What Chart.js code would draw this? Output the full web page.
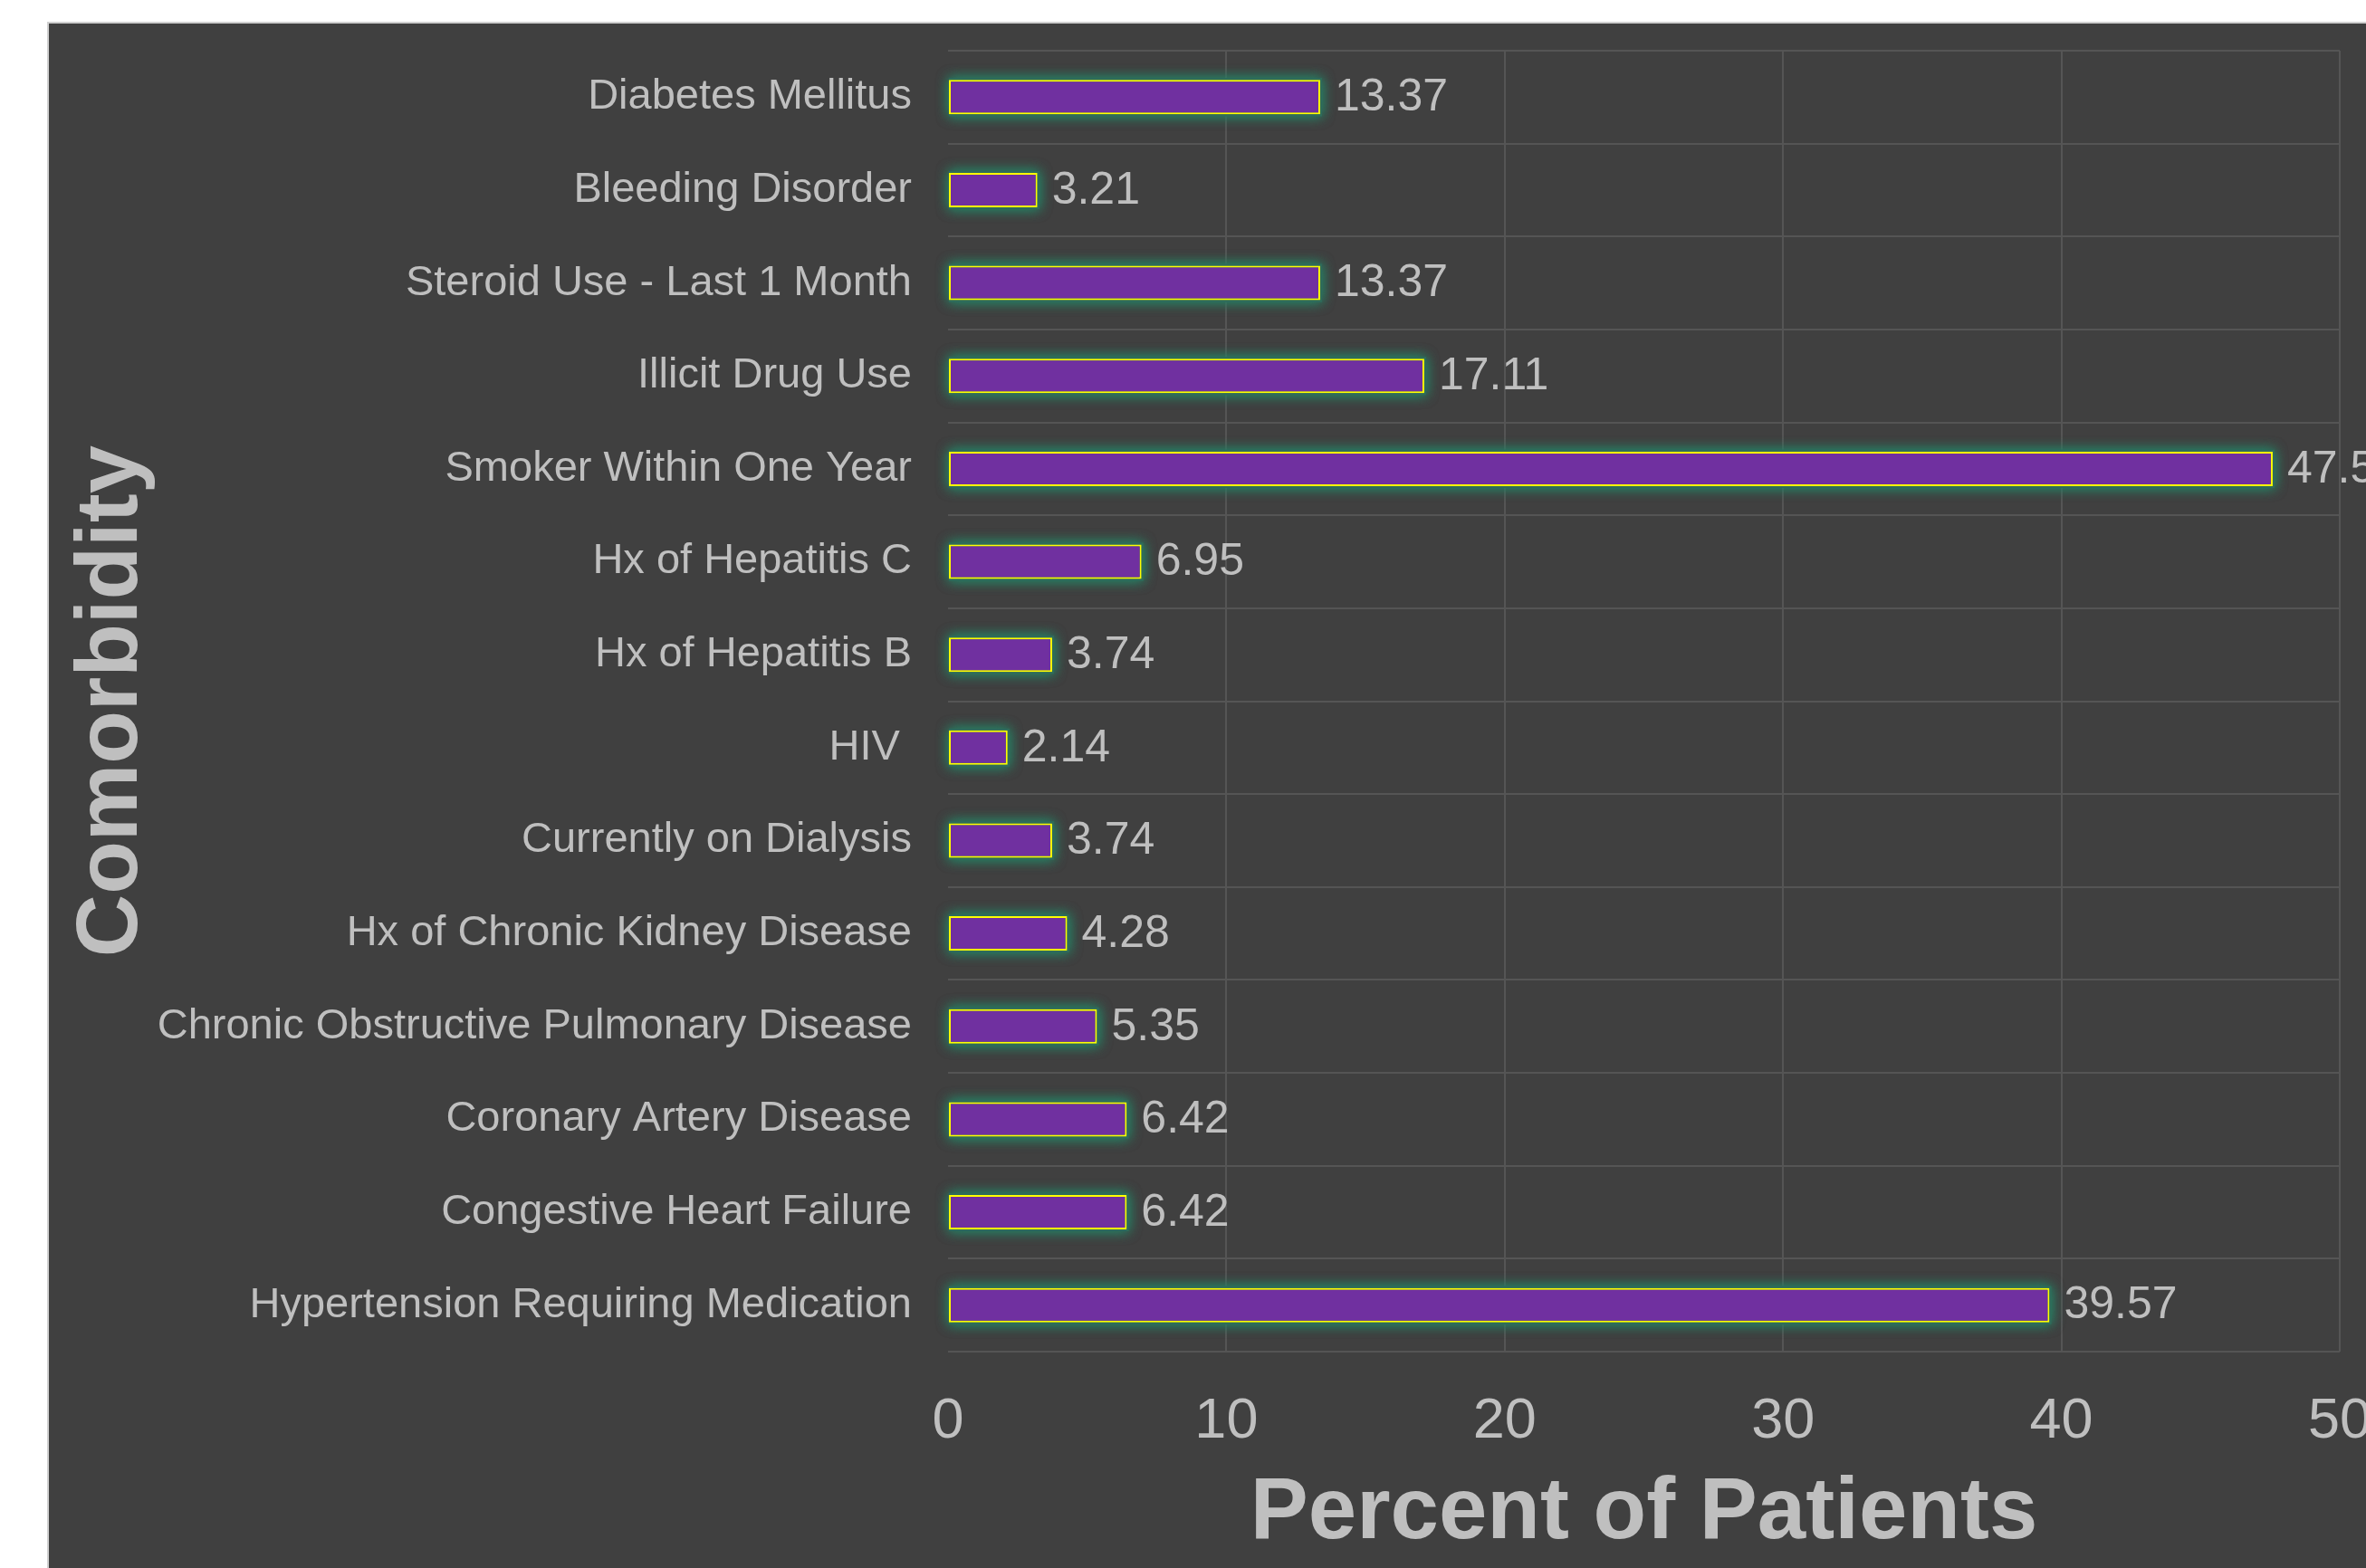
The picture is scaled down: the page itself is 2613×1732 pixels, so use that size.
<!DOCTYPE html>
<html>
<head>
<meta charset="utf-8">
<script src="https://cdn.jsdelivr.net/npm/chart.js@4.4.0/dist/chart.umd.min.js"></script>
<style>
  html, body { margin: 0; padding: 0; background: #ffffff; }
  canvas { display: block; }
</style>
</head>
<body>
<canvas id="myChart" width="2613" height="1732"></canvas>
<script>
const categories = [
  "Diabetes Mellitus",
  "Bleeding Disorder",
  "Steroid Use - Last 1 Month",
  "Illicit Drug Use",
  "Smoker Within One Year",
  "Hx of Hepatitis C",
  "Hx of Hepatitis B",
  "HIV ",
  "Currently on Dialysis",
  "Hx of Chronic Kidney Disease",
  "Chronic Obstructive Pulmonary Disease",
  "Coronary Artery Disease",
  "Congestive Heart Failure",
  "Hypertension Requiring Medication",
];
const percentOfPatients = [13.37, 3.21, 13.37, 17.11, 47.59, 6.95, 3.74, 2.14, 3.74, 4.28, 5.35, 6.42, 6.42, 39.57];
const xTickValues = [0, 10, 20, 30, 40, 50];

const textColor = "#bfbfbf";
const gridColor = "#555555";
const fontFamily = "'Liberation Sans', Arial, Helvetica, sans-serif";

// white page with the dark panel behind the plot
const panelBackground = {
  id: "panelBackground",
  beforeDraw(chart) {
    const ctx = chart.ctx;
    const left = 53, top = 25;
    ctx.save();
    ctx.fillStyle = "#ffffff";
    ctx.fillRect(0, 0, chart.width, chart.height);
    ctx.fillStyle = "#404040";
    ctx.fillRect(left, top, chart.width - left, chart.height - top);
    ctx.strokeStyle = "#d0d0d0";
    ctx.lineWidth = 2;
    ctx.beginPath();
    ctx.moveTo(left, chart.height);
    ctx.lineTo(left, top);
    ctx.lineTo(chart.width, top);
    ctx.stroke();
    ctx.restore();
  },
};

// teal glow under each bar
const barGlow = {
  id: "barGlow",
  beforeDatasetsDraw(chart) {
    const ctx = chart.ctx;
    const meta = chart.getDatasetMeta(0);
    ctx.save();
    ctx.shadowColor = "rgba(40, 125, 98, 1)";
    ctx.shadowBlur = 14;
    ctx.fillStyle = "#2f6b5a";
    for (let k = 0; k < 2; k++) {
      meta.data.forEach((bar) => {
        const p = bar.getProps(["x", "y", "base", "height"], true);
        ctx.fillRect(p.base, p.y - p.height / 2 - 2, p.x - p.base + 2, p.height + 4);
      });
    }
    ctx.restore();
  },
};

// value labels to the right of the bars
const valueLabels = {
  id: "valueLabels",
  afterDatasetsDraw(chart) {
    const ctx = chart.ctx;
    const meta = chart.getDatasetMeta(0);
    ctx.save();
    ctx.fillStyle = textColor;
    ctx.font = "50px " + fontFamily;
    ctx.textAlign = "left";
    ctx.textBaseline = "middle";
    meta.data.forEach((bar, i) => {
      const p = bar.getProps(["x", "y"], true);
      ctx.fillText(percentOfPatients[i].toFixed(2), p.x + 16, p.y + 1);
    });
    ctx.restore();
  },
};

const ctx = document.getElementById("myChart").getContext("2d");

const myChart = new Chart(ctx, {
  type: "bar",
  data: {
    labels: categories,
    datasets: [
      {
        label: "Percent of Patients",
        data: percentOfPatients,
        backgroundColor: "#7030a0",
        borderColor: "#ffff00",
        borderWidth: 2,
        borderSkipped: false,
        barPercentage: 0.37,
        categoryPercentage: 1,
      },
    ],
  },
  options: {
    indexAxis: "y",
    responsive: false,
    animation: false,
    layout: {
      padding: { left: 39, top: 56, right: 29, bottom: 0 },
    },
    plugins: {
      legend: { display: false },
      tooltip: { enabled: false },
    },
    scales: {
      x: {
        min: 0,
        max: 50,
        afterBuildTicks(scale) {
          scale.ticks = xTickValues.map((v) => ({ value: v }));
        },
        afterFit(scale) {
          scale.height = 239;
          scale.paddingLeft = 0;
          scale.paddingRight = 0;
        },
        grid: {
          color: (c) => (c.tick && c.tick.value === 0 ? "rgba(0,0,0,0)" : gridColor),
          lineWidth: 2,
          drawTicks: false,
        },
        border: { display: false },
        ticks: {
          color: textColor,
          padding: 40,
          font: { family: fontFamily, size: 63 },
        },
        title: {
          display: true,
          text: "Percent of Patients",
          color: textColor,
          font: { family: fontFamily, size: 96, weight: "bold", lineHeight: 1 },
          padding: { top: 0, bottom: 11 },
        },
      },
      y: {
        afterFit(scale) {
          scale.width = 1008;
          scale.paddingTop = 0;
          scale.paddingBottom = 0;
        },
        grid: {
          color: gridColor,
          lineWidth: 2,
          drawTicks: false,
          offset: true,
        },
        border: { display: false },
        ticks: {
          color: textColor,
          padding: 40,
          font: { family: fontFamily, size: 47 },
        },
        title: {
          display: true,
          text: "Comorbidity",
          color: textColor,
          font: { family: fontFamily, size: 96, weight: "bold", lineHeight: 1 },
          padding: { top: 38, bottom: 0 },
        },
      },
    },
  },
  plugins: [panelBackground, barGlow, valueLabels],
});
</script>
</body>
</html>
